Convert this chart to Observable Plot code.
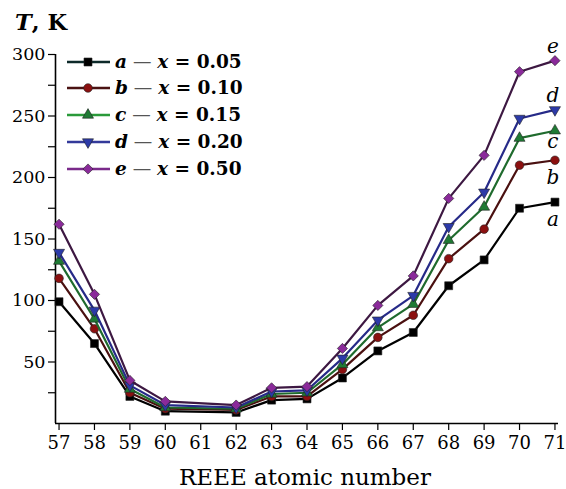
<!DOCTYPE html>
<html>
<head>
<meta charset="utf-8">
<script src="https://cdn.jsdelivr.net/npm/d3@7"></script>
<script src="https://cdn.jsdelivr.net/npm/@observablehq/plot@0.6"></script>
<style>
  html, body { margin: 0; padding: 0; background: #fff; }
</style>
</head>
<body>
<div id="chart"></div>
<script>
// ---- data ----
const atomicNumbers = [57, 58, 59, 60, 62, 63, 64, 65, 66, 67, 68, 69, 70, 71];
const xTicks = [57, 58, 59, 60, 61, 62, 63, 64, 65, 66, 67, 68, 69, 70, 71];
const yTicks = [50, 100, 150, 200, 250, 300];
const yMinorTicks = [25, 75, 125, 175, 225, 275];
const seriesNames = ["a", "b", "c", "d", "e"];
const seriesX = ["0.05", "0.10", "0.15", "0.20", "0.50"];
const tA = [99, 65, 22, 10, 9, 19, 20, 37, 59, 74, 112, 133, 175, 180];
const tB = [118, 77, 25, 12, 11, 22, 22, 44, 70, 88, 134, 158, 210, 214];
const tC = [132, 85, 28, 13, 12, 24, 25, 48, 78, 97, 149, 176, 232, 238];
const tD = [139, 92, 31, 15, 13, 26, 27, 53, 84, 104, 160, 188, 248, 255];
const tE = [162, 105, 35, 18, 15, 29, 30, 61, 96, 120, 183, 218, 286, 295];
const seriesValues = [tA, tB, tC, tD, tE];

// ---- styles ----
const lineColors = ["#000000", "#4a1010", "#1f6b2d", "#262a88", "#3d1842"];
const fillColors = ["#000000", "#8b1010", "#1f7a34", "#2c3aa8", "#8a2a9a"];
const legendLineColors = ["#0d2a2a", "#4a1212", "#2a9a3a", "#333a9a", "#7a2a8a"];
const symbols = ["square", "circle", "triangle", "triangle", "diamond2"];
const rotations = [0, 0, 0, 180, 0];
const radii = [4.5, 4.3, 4.1, 4.1, 4.6];
const labelDy = [17, 17, 11, -14, -14];

const rows = [];
seriesNames.forEach((s, i) => {
  atomicNumbers.forEach((z, j) => rows.push({series: s, z, T: seriesValues[i][j]}));
});

const marks = [
  Plot.ruleX([56.9], {y1: 0, y2: 300, stroke: "#000", strokeWidth: 1.6}),
  Plot.ruleY([0], {x1: 56.9, x2: 71.1, stroke: "#000", strokeWidth: 1.6}),
  Plot.axisY(yTicks, {tickSize: 7, tickPadding: 3, fontSize: 17.5, label: null, strokeWidth: 1.2}),
  Plot.axisY(yMinorTicks, {tickSize: 7, tickFormat: () => "", label: null, strokeWidth: 1.2}),
  Plot.axisX(xTicks, {tickSize: 7, tickPadding: 6, fontSize: 18, label: null, tickFormat: d => String(d), strokeWidth: 1.2})
];

seriesNames.forEach((s, i) => {
  const data = rows.filter(r => r.series === s);
  marks.push(Plot.line(data, {x: "z", y: "T", stroke: lineColors[i], strokeWidth: 2.2}));
  marks.push(Plot.dot(data, {
    x: "z", y: "T", symbol: () => symbols[i], r: radii[i], rotate: rotations[i],
    fill: fillColors[i], stroke: "#222", strokeWidth: 0.6
  }));
  const last = data[data.length - 1];
  marks.push(Plot.text([last], {
    x: "z", y: "T", text: () => s, dy: labelDy[i], dx: -2,
    fontSize: 20, fontStyle: "italic", fill: "#000"
  }));
});

const svg = Plot.plot({
  width: 566,
  height: 489,
  marginLeft: 55,
  marginRight: 8,
  marginTop: 54,
  marginBottom: 66,
  style: {fontFamily: "DejaVu Serif", background: "#fff", color: "#000"},
  x: {domain: [56.9, 71.1]},
  y: {domain: [0, 300]},
  marks
});

const sel = d3.select(svg);

// y-axis title
const title = sel.append("text")
  .attr("x", 15).attr("y", 30)
  .attr("text-anchor", "start")
  .attr("font-family", "DejaVu Serif").attr("font-size", 22.5).attr("font-weight", 600)
  .attr("fill", "#000");
title.append("tspan").attr("font-style", "italic").text("T");
title.append("tspan").text(", K");

// x-axis title
sel.append("text")
  .attr("x", 305).attr("y", 485)
  .attr("text-anchor", "middle")
  .attr("font-family", "DejaVu Serif").attr("font-size", 23)
  .attr("fill", "#000")
  .text("REEE atomic number");

// legend
const legendY = [62, 88, 115, 142, 169];
const lg = sel.append("g").attr("text-anchor", "start");
const symMap = {square: d3.symbolSquare, circle: d3.symbolCircle, triangle: d3.symbolTriangle, diamond2: d3.symbolDiamond2};
seriesNames.forEach((s, i) => {
  const y = legendY[i];
  lg.append("line").attr("x1", 67).attr("x2", 110).attr("y1", y).attr("y2", y)
    .attr("stroke", legendLineColors[i]).attr("stroke-width", 2.4);
  lg.append("path")
    .attr("d", d3.symbol(symMap[symbols[i]], radii[i] * radii[i] * Math.PI)())
    .attr("transform", `translate(88,${y}) rotate(${rotations[i]})`)
    .attr("fill", fillColors[i]).attr("stroke", "#222").attr("stroke-width", 0.6);
  const t = lg.append("text").attr("x", 115).attr("y", y + 6)
    .attr("text-anchor", "start")
    .attr("font-family", "DejaVu Serif").attr("font-size", 18.5).attr("fill", "#000");
  t.append("tspan").attr("font-style", "italic").attr("font-weight", "bold").text(s);
  t.append("tspan").attr("fill", "#555").text(" \u2014 ");
  t.append("tspan").attr("font-style", "italic").attr("font-weight", "bold").text("x");
  t.append("tspan").attr("font-weight", "bold").text(" = " + seriesX[i]);
});

document.getElementById("chart").appendChild(svg);
</script>
</body>
</html>
